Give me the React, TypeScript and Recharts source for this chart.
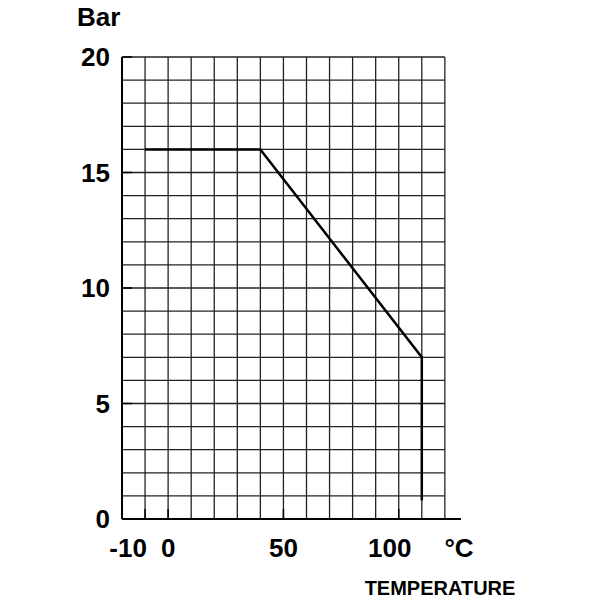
import React from "react";
import { LineChart, Line, XAxis, YAxis, ReferenceLine, Label } from "recharts";

const temperature = [-10, 40, 110, 110];
const pressure = [16, 16, 7, 0.8];
const xTicks = [-10, 0, 50, 100];
const yTicks = [0, 5, 10, 15, 20];
const gridX = [-10, 0, 10, 20, 30, 40, 50, 60, 70, 80, 90, 100, 110, 120];
const gridY = [1, 2, 3, 4, 5, 6, 7, 8, 9, 10, 11, 12, 13, 14, 15, 16, 17, 18, 19, 20];
const xDomain: [number, number] = [-20, 127];
const gridXMin = -20;
const gridXMax = 120;
const gridYMin = 0;

const data = temperature.map((t, i) => ({ t, p: pressure[i] }));

const FONT = "'Liberation Sans', Arial, Helvetica, sans-serif";
const xLabelShift: Record<number, number> = { [-10]: -17, 0: 0, 50: 0, 100: -9 };

const XTick = (props: any) => {
  const { x, y, payload } = props;
  const v = payload.value;
  return (
    <g>
      <line x1={x} x2={x} y1={y} y2={y - 10} stroke="#000" strokeWidth={1.5} />
      <text
        x={x + (xLabelShift[v] ?? 0)}
        y={y + 38}
        textAnchor="middle"
        fontFamily={FONT}
        fontWeight="bold"
        fontSize={26}
        fill="#000"
      >
        {v}
      </text>
    </g>
  );
};

const YTick = (props: any) => {
  const { x, y, payload } = props;
  const v = payload.value;
  return (
    <g>
      {v !== 0 && <line x1={x} x2={x + 10} y1={y} y2={y} stroke="#000" strokeWidth={1.5} />}
      <text
        x={x - 12}
        y={y + 9}
        textAnchor="end"
        fontFamily={FONT}
        fontWeight="bold"
        fontSize={26}
        fill="#000"
      >
        {v}
      </text>
    </g>
  );
};

export default function App() {
  return (
    <div style={{ position: "absolute", left: 0, top: 0, background: "#fff" }}>
      <LineChart
        width={600}
        height={600}
        data={data}
        margin={{ top: 57, right: 139, bottom: 41, left: 62 }}
      >
        <XAxis
          dataKey="t"
          type="number"
          domain={xDomain}
          ticks={xTicks}
          interval={0}
          height={40}
          tickSize={0}
          tickMargin={0}
          tickLine={false}
          tick={<XTick />}
          axisLine={{ stroke: "#000", strokeWidth: 2 }}
          allowDataOverflow
        >
          <Label
            content={(p: any) => {
              const vb = p.viewBox;
              return (
                <text
                  x={vb.x + vb.width - 2}
                  y={vb.y + 38}
                  textAnchor="middle"
                  fontFamily={FONT}
                  fontWeight="bold"
                  fontSize={26}
                  fill="#000"
                >
                  °C
                </text>
              );
            }}
          />
          <Label
            content={(p: any) => {
              const vb = p.viewBox;
              return (
                <text
                  x={vb.x + vb.width - 21}
                  y={vb.y + 76}
                  textAnchor="middle"
                  fontFamily={FONT}
                  fontWeight="bold"
                  fontSize={20}
                  fill="#000"
                >
                  TEMPERATURE
                </text>
              );
            }}
          />
        </XAxis>
        <YAxis
          type="number"
          domain={[0, 20]}
          ticks={yTicks}
          interval={0}
          width={60}
          tickSize={0}
          tickMargin={0}
          tickLine={false}
          tick={<YTick />}
          axisLine={{ stroke: "#000", strokeWidth: 2 }}
        >
          <Label
            content={(p: any) => {
              const vb = p.viewBox;
              return (
                <text
                  x={vb.x + 15}
                  y={vb.y - 31}
                  textAnchor="start"
                  fontFamily={FONT}
                  fontWeight="bold"
                  fontSize={26}
                  fill="#000"
                >
                  Bar
                </text>
              );
            }}
          />
        </YAxis>
        {gridX.map((gx) => (
          <ReferenceLine
            key={"gx" + gx}
            segment={[
              { x: gx, y: gridYMin },
              { x: gx, y: 20 },
            ]}
            stroke="#222"
            strokeWidth={1.3}
          />
        ))}
        {gridY.map((gy) => (
          <ReferenceLine
            key={"gy" + gy}
            segment={[
              { x: gridXMin, y: gy },
              { x: gridXMax, y: gy },
            ]}
            stroke="#222"
            strokeWidth={1.3}
          />
        ))}
        <Line
          type="linear"
          dataKey="p"
          stroke="#000"
          strokeWidth={2.5}
          dot={false}
          activeDot={false}
          isAnimationActive={false}
        />
      </LineChart>
    </div>
  );
}
